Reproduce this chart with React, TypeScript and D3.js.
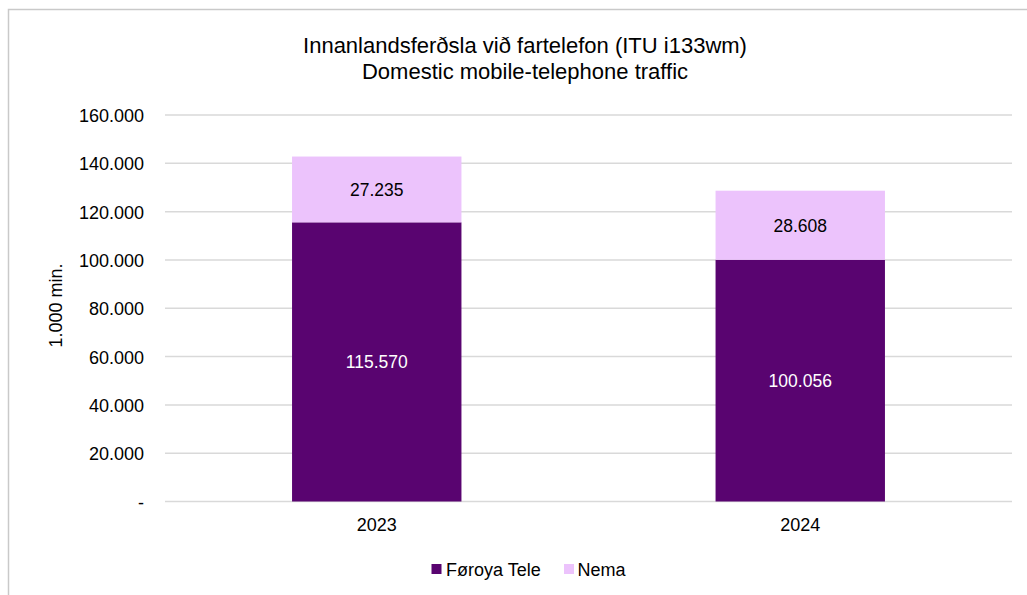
import React from "react";
import * as d3 from "d3";

const categories = ["2023", "2024"];
const seriesNames = ["Føroya Tele", "Nema"];
const foroyaTele = [115570, 100056];
const nema = [27235, 28608];
const yTicks = [0, 20000, 40000, 60000, 80000, 100000, 120000, 140000, 160000];
const titleLines = ["Innanlandsferðsla við fartelefon (ITU i133wm)", "Domestic mobile-telephone traffic"];
const yLabel = "1.000 min.";

const colors = ["#590470", "#ecc3fc"];
const font = "'Liberation Sans', Arial, sans-serif";

const fmt = (v: number) => {
  if (v === 0) return "-";
  return d3.format(",")(v).replace(/,/g, ".");
};

export default function App() {
  const left = 165, right = 1012, top = 115, bottom = 501.5;
  const x = d3.scaleBand<string>().domain(categories).range([left, right]).padding(0);
  const y = d3.scaleLinear().domain([0, 160000]).range([bottom, top]);
  const barW = x.bandwidth() * 0.4;
  const stack = d3.stack<any>().keys(seriesNames)(
    categories.map((c, i) => ({ cat: c, [seriesNames[0]]: foroyaTele[i], [seriesNames[1]]: nema[i] }))
  );

  return (
    <svg width={1027} height={595} style={{ position: "absolute", left: 0, top: 0, background: "#fff" }} fontFamily={font}>
      <rect x={8.5} y={9.5} width={1100} height={700} fill="#fff" stroke="#c9c9c9" strokeWidth={1.5} />
      {titleLines.map((t, i) => (
        <text key={i} x={525} y={53 + i * 26} textAnchor="middle" fontSize={22} fill="#000">{t}</text>
      ))}
      {yTicks.map((t) => (
        <g key={t}>
          <line x1={left} x2={right} y1={y(t)} y2={y(t)} stroke="#d9d9d9" strokeWidth={1.5} />
          <text x={144} y={y(t) + 7} textAnchor="end" fontSize={18} fill="#000">{fmt(t)}</text>
        </g>
      ))}
      <text transform={`translate(${61.5},${305.5}) rotate(-90)`} textAnchor="middle" fontSize={18} fill="#000">{yLabel}</text>
      {stack.map((s, si) => (
        <g key={si}>
          {s.map((d, i) => {
            const cx = x(categories[i])! + x.bandwidth() / 2;
            const y0 = y(d[0]);
            const y1 = y(d[1]);
            return (
              <g key={i}>
                <rect x={cx - barW / 2} y={y1} width={barW} height={y0 - y1} fill={colors[si]} />
                <text x={cx} y={(y0 + y1) / 2 + 6.5} textAnchor="middle" fontSize={17.5} fill={si === 0 ? "#fff" : "#000"}>
                  {fmt(d[1] - d[0])}
                </text>
              </g>
            );
          })}
        </g>
      ))}
      {categories.map((c) => (
        <text key={c} x={x(c)! + x.bandwidth() / 2} y={531} textAnchor="middle" fontSize={18} fill="#000">{c}</text>
      ))}
      <g>
        <rect x={431.5} y={564} width={10} height={10} fill={colors[0]} />
        <text x={446} y={575.5} fontSize={18} fill="#000">{seriesNames[0]}</text>
        <rect x={564} y={564} width={10} height={10} fill={colors[1]} />
        <text x={577.5} y={575.5} fontSize={18} fill="#000">{seriesNames[1]}</text>
      </g>
    </svg>
  );
}
